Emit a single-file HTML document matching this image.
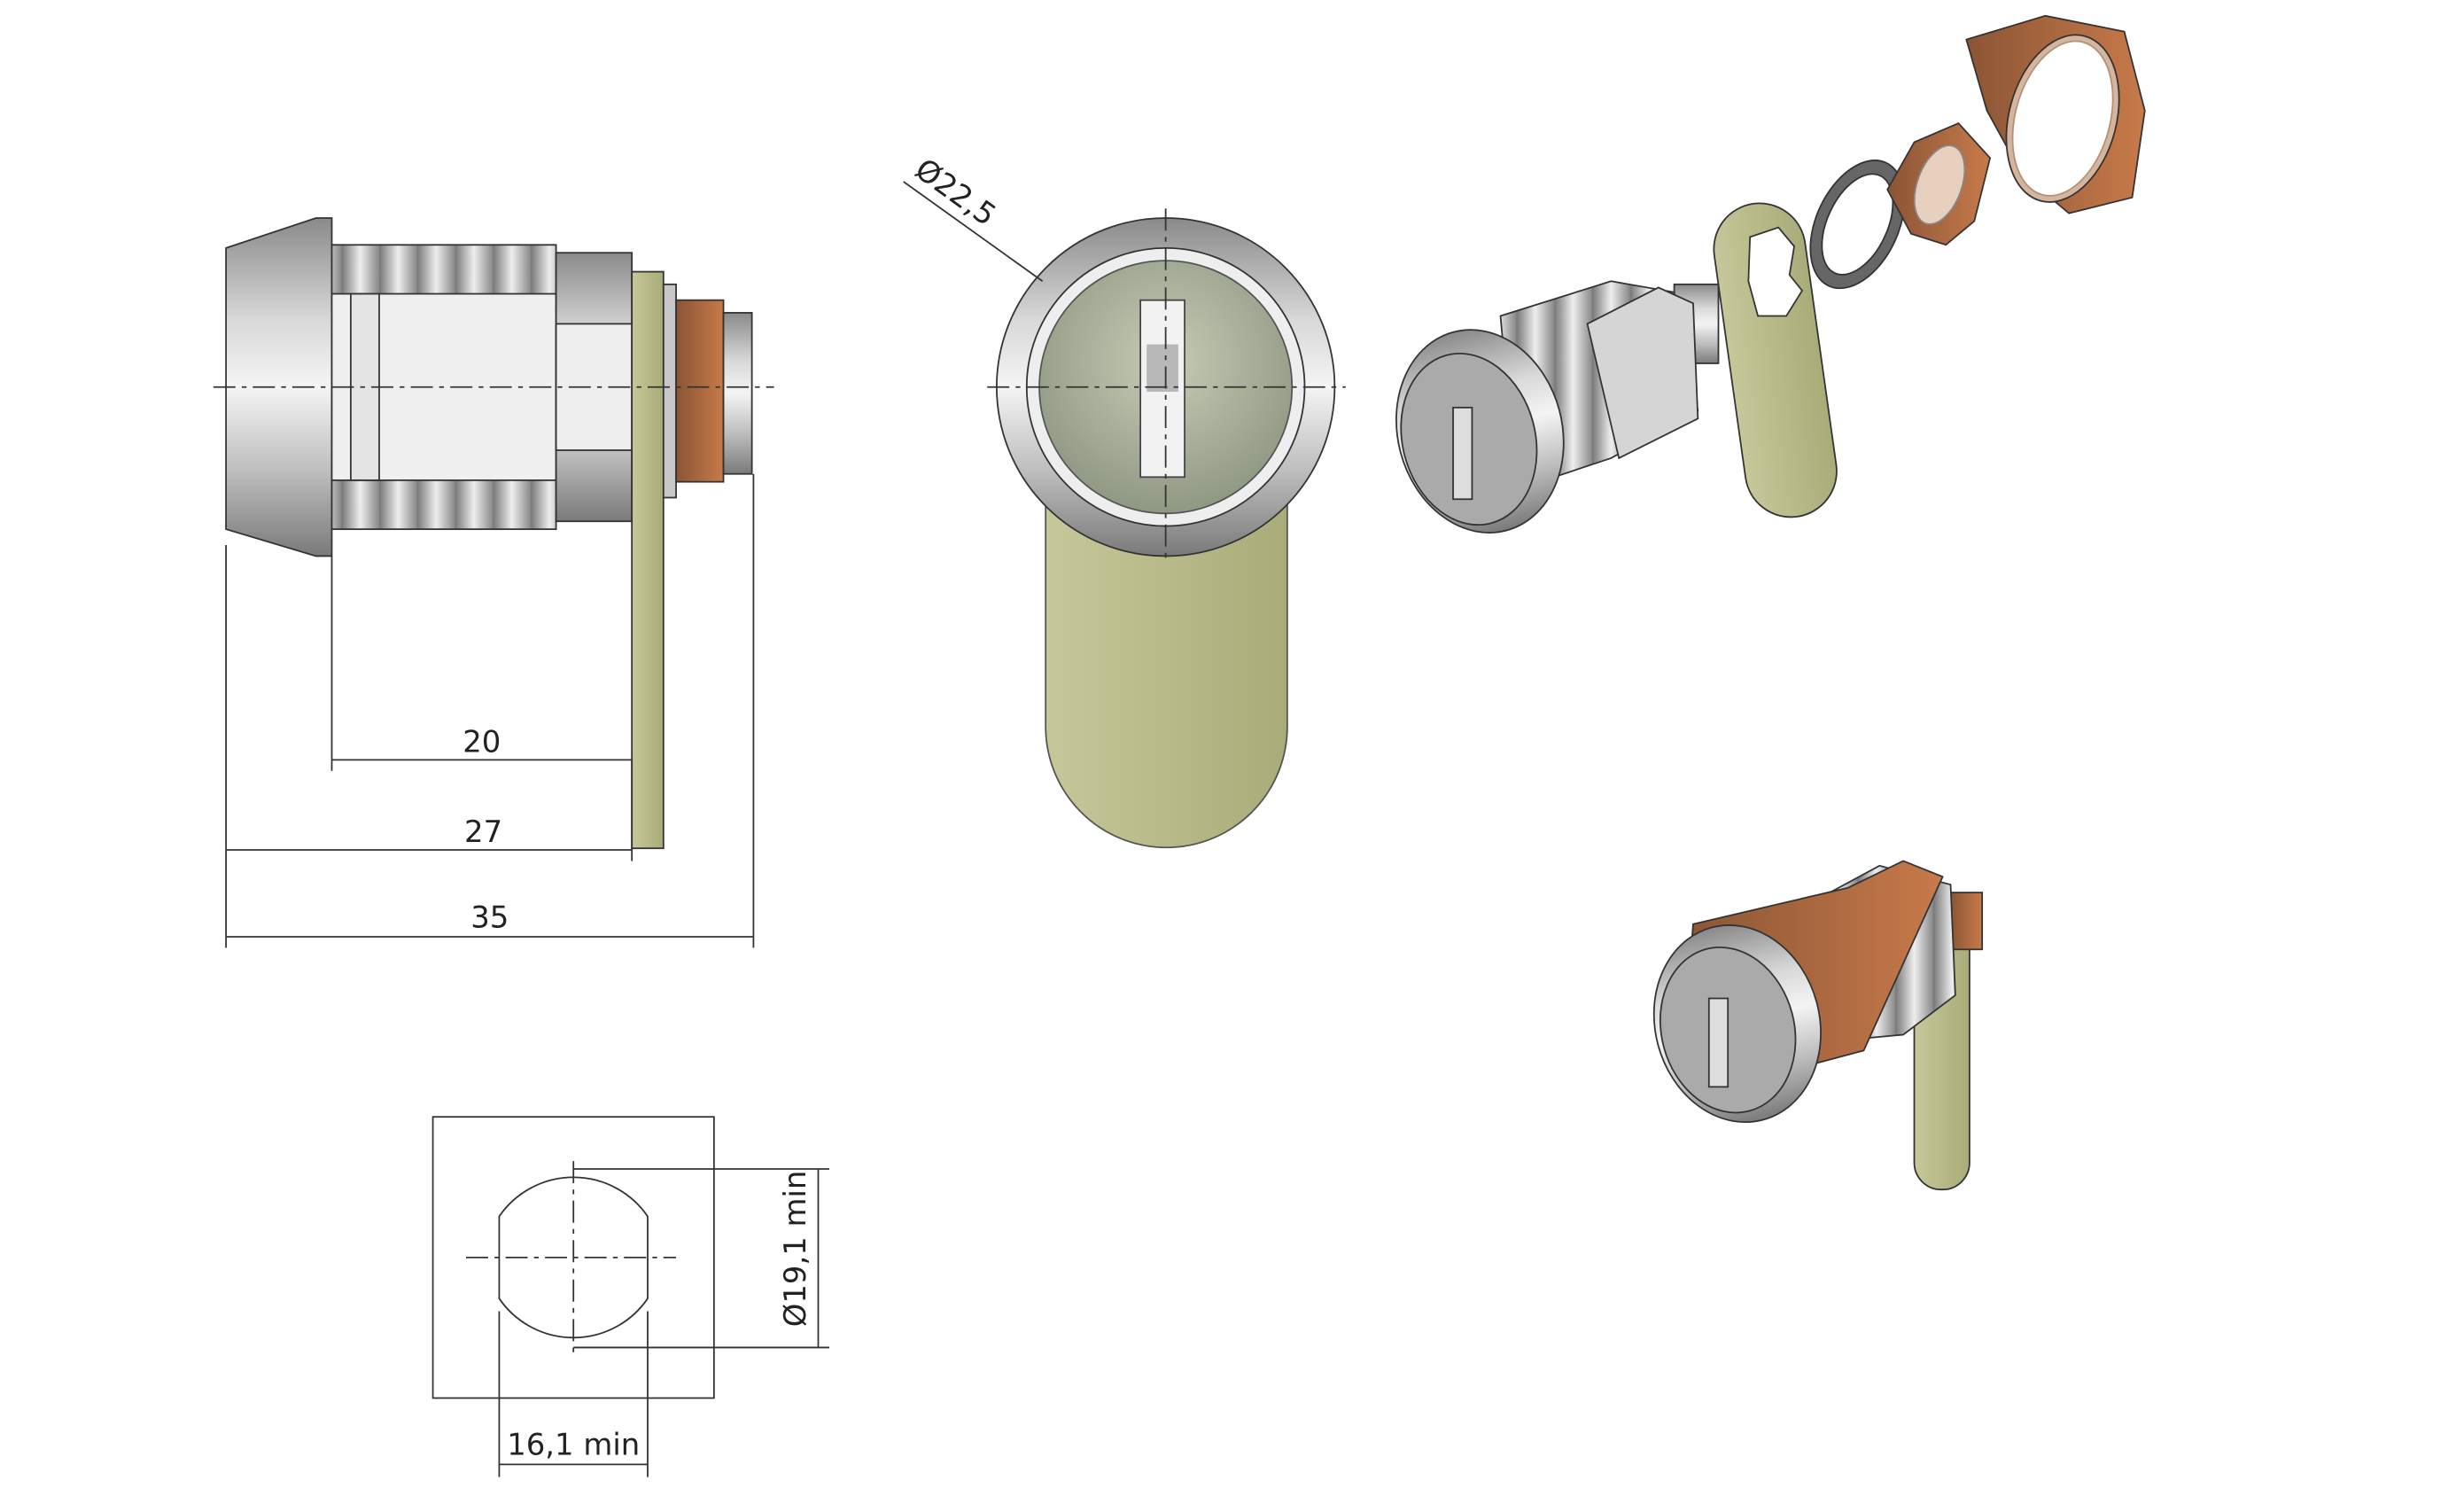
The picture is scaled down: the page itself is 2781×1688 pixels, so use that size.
<!DOCTYPE html>
<html><head><meta charset="utf-8"><style>
html,body{margin:0;padding:0;background:#fff}
svg{display:block}
text{font-family:"DejaVu Sans","Liberation Sans",sans-serif;font-size:19px;fill:#222}
</style></head><body>
<svg width="2781" height="1688" viewBox="0 0 1560 947" xmlns="http://www.w3.org/2000/svg">
<defs>
<linearGradient id="met" x1="0" y1="0" x2="0" y2="1">
<stop offset="0" stop-color="#8a8a8a"/><stop offset=".3" stop-color="#d8d8d8"/><stop offset=".5" stop-color="#f4f4f4"/><stop offset=".75" stop-color="#bdbdbd"/><stop offset="1" stop-color="#7a7a7a"/></linearGradient>
<linearGradient id="rib" x1="0" y1="0" x2="1" y2="0">
<stop offset="0" stop-color="#777"/><stop offset=".5" stop-color="#eee"/><stop offset="1" stop-color="#888"/></linearGradient>
<pattern id="ribs" width="24" height="10" patternUnits="userSpaceOnUse"><rect width="24" height="10" fill="url(#rib)"/></pattern>
<linearGradient id="cam" x1="0" y1="0" x2="1" y2="0"><stop offset="0" stop-color="#c6c89a"/><stop offset="1" stop-color="#a9ab78"/></linearGradient>
<linearGradient id="cop" x1="0" y1="0" x2="1" y2="0"><stop offset="0" stop-color="#8a5535"/><stop offset="1" stop-color="#c87a4a"/></linearGradient>
<radialGradient id="face" cx=".5" cy=".4" r=".6"><stop offset="0" stop-color="#c7cbb5"/><stop offset="1" stop-color="#8f9883"/></radialGradient>
</defs>

<!-- LEFT SIDE VIEW -->
<g stroke="#333" stroke-width="1">
<path d="M143 157 L200 138 L210 138 L210 352 L200 352 L143 335 Z" fill="url(#met)"/>
<rect x="210" y="155" width="142" height="180" fill="url(#ribs)"/>
<rect x="210" y="186" width="142" height="118" fill="#f0f0f0"/>
<rect x="222" y="186" width="18" height="118" fill="#e4e4e4"/>
<rect x="352" y="160" width="48" height="170" fill="url(#met)"/>
<rect x="352" y="205" width="48" height="80" fill="#eee"/>
<rect x="400" y="172" width="20" height="365" fill="url(#cam)"/>
<rect x="420" y="180" width="8" height="135" fill="#c7c7c7"/>
<rect x="428" y="190" width="30" height="115" fill="url(#cop)"/>
<rect x="458" y="198" width="18" height="102" fill="url(#met)"/>
</g>
<line x1="135" y1="245" x2="490" y2="245" stroke="#333" stroke-width="1" stroke-dasharray="14 4 3 4"/>
<g stroke="#333" stroke-width="1" fill="none">
<line x1="143" y1="345" x2="143" y2="600"/><line x1="210" y1="352" x2="210" y2="488"/>
<line x1="400" y1="480" x2="400" y2="545"/><line x1="477" y1="300" x2="477" y2="600"/>
<line x1="210" y1="481" x2="400" y2="481"/><line x1="143" y1="538" x2="400" y2="538"/><line x1="143" y1="593" x2="477" y2="593"/>
</g>
<text x="305" y="476" text-anchor="middle">20</text>
<text x="306" y="533" text-anchor="middle">27</text>
<text x="310" y="587" text-anchor="middle">35</text>

<!-- FRONT VIEW -->
<path d="M662 310 L815 310 L815 460 A76.5 76.5 0 0 1 662 460 Z" fill="url(#cam)" stroke="#555"/>
<circle cx="738" cy="245" r="107" fill="url(#met)" stroke="#333"/>
<circle cx="738" cy="245" r="88" fill="#eee" stroke="#333"/>
<circle cx="738" cy="245" r="80" fill="url(#face)" stroke="#555"/>
<rect x="722" y="190" width="28" height="112" fill="#f2f2f2" stroke="#444"/>
<rect x="726" y="218" width="20" height="30" fill="#b8b8b8"/>
<g stroke="#333" stroke-width="1"><line x1="625" y1="245" x2="852" y2="245" stroke-dasharray="14 4 3 4"/><line x1="738" y1="132" x2="738" y2="355" stroke-dasharray="14 4 3 4"/>
<line x1="572" y1="115" x2="660" y2="178"/></g>
<text transform="translate(578,110) rotate(36)">Ø22,5</text>

<!-- BOTTOM CUTOUT -->
<rect x="274" y="707" width="178" height="178" fill="none" stroke="#333"/>
<path d="M316 770 A57 57 0 0 1 410 770 L410 822 A57 57 0 0 1 316 822 Z" fill="none" stroke="#333"/>
<g stroke="#333" fill="none">
<line x1="295" y1="796" x2="428" y2="796" stroke-dasharray="14 4 3 4"/><line x1="363" y1="735" x2="363" y2="860" stroke-dasharray="14 4 3 4"/>
<line x1="363" y1="740" x2="525" y2="740"/><line x1="363" y1="853" x2="525" y2="853"/><line x1="518" y1="740" x2="518" y2="853"/>
<line x1="316" y1="830" x2="316" y2="935"/><line x1="410" y1="830" x2="410" y2="935"/><line x1="316" y1="927" x2="410" y2="927"/></g>
<text transform="translate(510,840) rotate(-90)">Ø19,1 min</text>
<text x="363" y="921" text-anchor="middle">16,1 min</text>

<!-- EXPLODED 3D -->
<g stroke="#333" stroke-width="1">
<rect x="1095" y="128" width="58" height="200" rx="29" transform="rotate(-8 1124 228)" fill="url(#cam)"/>
<path d="M1108 150 l18 -6 l10 12 l-3 18 l8 10 l-10 16 l-18 0 l-6 -22 Z" fill="#fff"/>
<rect x="1060" y="180" width="28" height="50" fill="url(#met)"/>
<path d="M950 200 L1020 178 L1060 185 L1075 260 L1020 290 L960 310 Z" fill="url(#ribs)"/>
<path d="M1005 205 L1050 182 L1072 192 L1075 265 L1025 290 Z" fill="#d5d5d5"/>
<ellipse cx="937" cy="273" rx="52" ry="65" transform="rotate(-15 937 273)" fill="url(#met)"/>
<ellipse cx="930" cy="278" rx="42" ry="55" transform="rotate(-15 930 278)" fill="#aaa"/>
<rect x="920" y="258" width="12" height="58" fill="#ddd"/>
<ellipse cx="1176" cy="142" rx="26" ry="43" transform="rotate(25 1176 142)" fill="#666"/>
<ellipse cx="1176" cy="142" rx="19" ry="34" transform="rotate(25 1176 142)" fill="#fff"/>
<path d="M1195 120 L1212 90 L1240 78 L1260 100 L1250 140 L1232 155 L1210 148 Z" fill="url(#cop)"/>
<ellipse cx="1228" cy="117" rx="14" ry="26" transform="rotate(20 1228 117)" fill="#e8d0bf" stroke="#888"/>
<path d="M1258 70 L1245 25 L1295 10 L1345 20 L1358 70 L1350 125 L1310 135 L1280 110 Z" fill="url(#cop)"/>
<ellipse cx="1306" cy="75" rx="34" ry="54" transform="rotate(15 1306 75)" fill="#d6b59e"/>
<ellipse cx="1306" cy="75" rx="30" ry="50" transform="rotate(15 1306 75)" fill="#fff" stroke="#b59078"/>
</g>
<!-- ASSEMBLED 3D -->
<g stroke="#333" stroke-width="1">
<rect x="1212" y="575" width="35" height="178" rx="17" fill="url(#cam)"/>
<rect x="1235" y="565" width="20" height="36" fill="url(#cop)"/>
<path d="M1140 575 L1190 548 L1235 560 L1238 630 L1205 655 L1150 660 Z" fill="url(#ribs)"/>
<path d="M1072 585 L1170 562 L1205 545 L1230 555 L1180 665 L1105 685 L1065 675 Z" fill="url(#cop)"/>
<ellipse cx="1100" cy="648" rx="52" ry="63" transform="rotate(-15 1100 648)" fill="url(#met)"/>
<ellipse cx="1094" cy="652" rx="42" ry="53" transform="rotate(-15 1094 652)" fill="#aaa"/>
<rect x="1082" y="632" width="12" height="56" fill="#ddd"/>
</g>
</svg>
</body></html>
